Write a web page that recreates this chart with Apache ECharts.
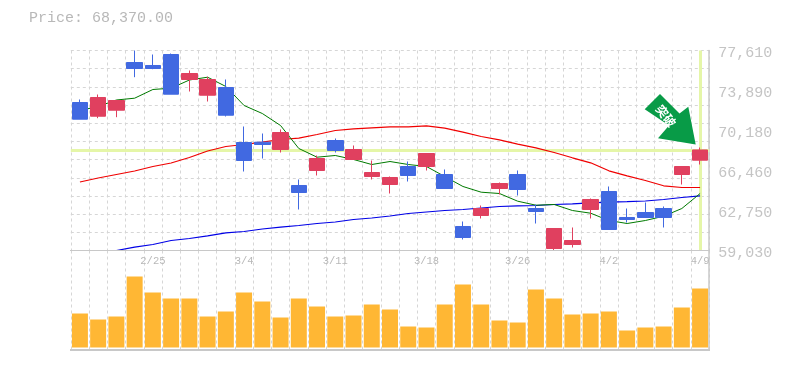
<!DOCTYPE html>
<html><head><meta charset="utf-8">
<style>html,body{margin:0;padding:0;background:#fff}#c{width:785px;height:370px}</style>
<script src="https://cdn.jsdelivr.net/npm/echarts@6/dist/echarts.min.js"></script>
</head><body><div id="c"></div>
<script>
const dates=['2/19','2/20','2/21','2/22','2/25','2/26','2/27','2/28','3/1','3/4','3/5','3/6','3/7','3/8','3/11','3/12','3/13','3/14','3/15','3/18','3/19','3/20','3/22','3/25','3/26','3/27','3/28','3/29','4/1','4/2','4/3','4/4','4/5','4/8','4/9'];
const opens=[72779,71506,72064,76495,76217,77238,74916,73457,74173,69063,69091,68413,65069,66462,69249,67484,65905,65161,66833,66833,66090,61260,62282,64790,66090,62931,59216,59587,62839,64511,62096,62560,62931,66090,67419];
const closes=[71228,73244,72965,75938,75938,73550,75473,74916,71599,67391,68877,69992,64418,67577,68320,68413,66276,65812,65998,68041,64790,60238,62931,65254,64697,62653,61074,59959,63768,60981,61910,62096,62096,66833,68370];
const lows=[71228,71321,71414,75130,75873,73550,73801,72872,71479,66369,67577,68134,62839,65998,68134,67484,65626,64325,65440,66462,64790,60052,62003,64232,64139,61538,59030,59308,62003,60981,61631,62096,61167,65161,67019];
const highs=[73058,73522,72965,77610,77238,77331,75752,75167,74916,70550,69899,70271,65626,67856,69435,68785,67391,65905,67298,68041,66555,61724,63210,65347,66462,63304,61074,61167,63861,64976,62931,63489,63118,66833,68599];
const maShort=[72036,72408,73012,73179,73987,74108,74869,75130,74266,72500,71757,70642,68506,67698,67856,67484,67019,67298,67019,66833,65905,64976,64446,64325,63610,63239,63304,62746,62495,61817,61538,61817,62216,62931,64325];
const maMid=[65394,65765,66090,66416,66833,67159,67670,68273,68692,68877,69091,69342,69462,69806,70178,70336,70429,70522,70522,70615,70392,70020,69621,69314,68905,68571,68134,67642,67177,66434,65969,65533,65041,64883,64883];
const maLong=[null,null,59030,59337,59588,59959,60145,60394,60674,60795,61027,61194,61353,61538,61677,61910,62049,62235,62467,62607,62746,62839,62978,63118,63183,63210,63304,63369,63462,63517,63564,63629,63768,63954,64112];
const volumes=[34,28,31,71,55,49,49,31,36,55,46,30,49,41,31,32,43,38,21,20,43,63,43,27,25,58,49,33,34,36,17,20,21,40,59];
const priceTicks=['59,030','62,750','66,460','70,180','73,890','77,610'];
const priceMin=59030, priceMax=77610, lastPrice=68370, lastIndex=34;
const priceTitle='Price: 68,370.00';
const badge='突破';
const gridLine={show:true,lineStyle:{color:'#d6d6d6',type:[3,3],width:1}};
const mono='"Liberation Mono","DejaVu Sans Mono",monospace';
const L=70.8,W=638.4;
const chart=echarts.init(document.getElementById('c'),null,{renderer:'canvas'});
chart.setOption({
  animation:false,backgroundColor:'#fff',
  title:{text:priceTitle,left:29,top:11,padding:0,textStyle:{fontFamily:mono,fontSize:15,fontWeight:'normal',color:'#b8b8b8'}},
  grid:[{left:L,width:W,top:50.5,height:200},{left:L,width:W,top:250.5,height:99},{left:L,width:W,top:53,height:200}],
  xAxis:[
    {type:'category',gridIndex:0,data:dates,boundaryGap:true,axisLine:{show:false},axisTick:{show:false},axisLabel:{show:false},splitLine:{show:true,interval:0,lineStyle:gridLine.lineStyle}},
    {type:'category',gridIndex:1,data:dates,boundaryGap:true,position:'top',
      axisLine:{show:false},axisTick:{show:false},
      axisLabel:{show:true,interval:(i)=>(i+1)%5===0,inside:true,margin:5,fontFamily:mono,fontSize:10.5,color:'#b8b8b8'},
      splitLine:{show:true,interval:0,lineStyle:gridLine.lineStyle}},
    {type:'category',gridIndex:2,data:dates,show:false}
  ],
  yAxis:[
    {type:'value',gridIndex:0,min:priceMin,max:priceMax,show:false,splitLine:{show:false}},
    {type:'value',gridIndex:0,min:0,max:11,interval:1,position:'left',axisLine:{show:false},axisTick:{show:false},axisLabel:{show:false},splitLine:gridLine},
    {type:'value',gridIndex:2,min:0,max:5,interval:1,position:'right',
      axisLine:{show:false},axisTick:{show:false},splitLine:{show:false},
      axisLabel:{margin:9,fontFamily:mono,fontSize:15,color:'#c4c4c4',formatter:(v)=>priceTicks[v]}},
    {type:'value',gridIndex:1,min:-2,max:97,show:true,position:'right',splitLine:{show:false},axisTick:{show:false},axisLabel:{show:false},axisLine:{show:true,lineStyle:{color:'#c8c8c8',width:1.5}}},
    {type:'value',gridIndex:0,min:0,max:1,position:'right',splitLine:{show:false},axisTick:{show:false},axisLabel:{show:false},axisLine:{show:true,lineStyle:{color:'#c8c8c8',width:1.5}}}
  ],
  graphic:[
    {type:'polygon',z:50,shape:{points:[[660,94],[679.5,113.5],[688.3,106.7],[695.7,144.5],[658,138.3],[669,125.5],[644.7,109.3]]},style:{fill:'#089b47'}},
    {type:'text',z:51,x:666,y:116,rotation:-Math.PI*0.29,style:{text:badge,fill:'#fff',font:'bold 12px "Noto Sans CJK JP"',align:'center',verticalAlign:'middle'}},
    {type:'rect',z:5,shape:{x:70,y:250,width:640,height:1},style:{fill:'#c8c8c8'}},
    {type:'rect',z:5,shape:{x:70,y:349,width:640,height:2},style:{fill:'#c8c8c8'}}
  ],
  series:[
    {type:'line',name:'guide',xAxisIndex:0,yAxisIndex:0,z:1,data:[],silent:true,
      markLine:{z:1,silent:true,symbol:'none',animation:false,label:{show:false},lineStyle:{color:'#e5f6a8',width:3,type:'solid'},
        data:[{yAxis:lastPrice},{xAxis:lastIndex}]}},
    {type:'line',name:'long',xAxisIndex:0,yAxisIndex:0,z:3,data:maLong,symbol:'none',lineStyle:{color:'#0000e6',width:1.2}},
    {type:'line',name:'mid',xAxisIndex:0,yAxisIndex:0,z:3,data:maMid,symbol:'none',lineStyle:{color:'#f00000',width:1.2}},
    {type:'line',name:'short',xAxisIndex:0,yAxisIndex:0,z:3,data:maShort,symbol:'none',lineStyle:{color:'#007a00',width:1}},
    {type:'candlestick',xAxisIndex:0,yAxisIndex:0,z:4,barWidth:16,
      data:opens.map((o,i)=>[o,closes[i],lows[i],highs[i]]),
      itemStyle:{color:'#e0405f',color0:'#4169e1',borderColor:'#e0405f',borderColor0:'#4169e1',borderWidth:1}},
    {type:'bar',xAxisIndex:1,yAxisIndex:3,data:volumes,barWidth:16,itemStyle:{color:'#ffb734'}}
  ]
});
</script></body></html>
